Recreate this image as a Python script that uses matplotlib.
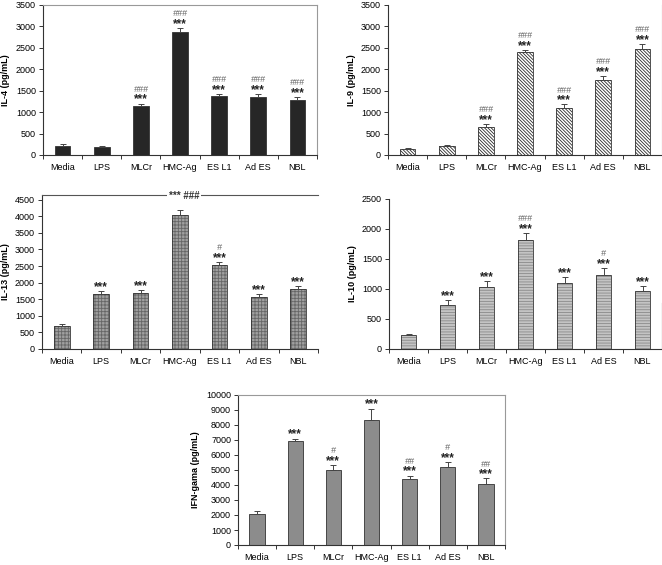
import matplotlib
matplotlib.use("Agg")
from matplotlib import pyplot as plt
import numpy as np

plt.rcParams['font.family'] = ['Liberation Sans', 'DejaVu Sans']
plt.rcParams['hatch.linewidth'] = 0.6

groups = ["Media", "LPS", "MLCr", "HMC-Ag", "ES L1", "Ad ES", "NBL"]

il4 = [220, 190, 1150, 2870, 1370, 1350, 1290]
il4_err = [30, 30, 50, 90, 60, 70, 70]
il4_stars = ["", "", "***", "***", "***", "***", "***"]
il4_hash = ["", "", "###", "###", "###", "###", "###"]

il9 = [150, 220, 660, 2400, 1100, 1760, 2470]
il9_err = [10, 20, 60, 50, 80, 80, 120]
il9_stars = ["", "", "***", "***", "***", "***", "***"]
il9_hash = ["", "", "###", "###", "###", "###", "###"]

il13 = [690, 1650, 1700, 4050, 2520, 1560, 1820]
il13_err = [60, 100, 80, 150, 110, 90, 80]
il13_stars = ["", "***", "***", "", "***", "***", "***"]
il13_hash = ["", "", "", "", "#", "", ""]

il10 = [240, 740, 1030, 1810, 1100, 1240, 960]
il10_err = [15, 70, 100, 120, 100, 110, 90]
il10_stars = ["", "***", "***", "***", "***", "***", "***"]
il10_hash = ["", "", "", "###", "", "#", ""]

ifn = [2100, 6950, 5000, 8350, 4380, 5200, 4100]
ifn_err = [150, 150, 350, 750, 250, 350, 350]
ifn_stars = ["", "***", "***", "***", "***", "***", "***"]
ifn_hash = ["", "", "#", "", "##", "#", "##"]

fig = plt.figure(figsize=(6.62, 5.65), dpi=100)
W, H = 662.0, 565.0


def make_ax(left, top, right, bottom):
    return fig.add_axes([left / W, 1 - bottom / H, (right - left) / W, (bottom - top) / H])


def panel(ax, vals, err, stars, hashes, ylabel, ymax, ystep, face, hatch=None, hcolor=None,
          frame=True, ytop=None):
    x = np.arange(len(groups))
    if hatch:
        ax.bar(x, vals, width=0.4, color=face, edgecolor=hcolor, hatch=hatch, linewidth=0, zorder=2)
        ax.bar(x, vals, width=0.4, fill=False, edgecolor="#333333", linewidth=0.6, zorder=3)
    else:
        ax.bar(x, vals, width=0.4, color=face, edgecolor="#333333", linewidth=0.6, zorder=2)
    ax.errorbar(x, vals, yerr=[np.zeros(len(vals)), err], fmt="none", ecolor="#444444",
                elinewidth=0.7, capsize=2, capthick=0.7, zorder=4)
    for i in range(len(vals)):
        top = vals[i] + err[i]
        if stars[i]:
            ax.annotate(stars[i], (x[i], top), xytext=(0, -1.5), textcoords="offset points",
                        ha="center", va="bottom", fontsize=8.5, fontweight="bold", color="#222222")
        if hashes[i]:
            off = 7 if stars[i] else 1
            ax.annotate(hashes[i], (x[i], top), xytext=(0, off), textcoords="offset points",
                        ha="center", va="bottom", fontsize=6.5, style="italic", color="#666666")
    ax.set_xlim(-0.5, len(groups) - 0.5)
    ax.set_ylim(0, ytop if ytop else ymax)
    ax.set_yticks(np.arange(0, ymax + 1, ystep))
    ax.set_xticks(x)
    ax.set_xticklabels(groups, fontsize=6.5)
    ax.set_xticks(np.arange(-0.5, len(groups), 1.0), minor=True)
    ax.tick_params(axis="x", which="major", length=0, pad=6)
    ax.tick_params(axis="x", which="minor", length=3, width=0.7, color="#333333")
    ax.tick_params(axis="y", length=3, width=0.7, labelsize=6.5, pad=2, color="#333333")
    ax.set_ylabel(ylabel, fontsize=6.5, fontweight="bold")
    for s in ["left", "bottom"]:
        ax.spines[s].set_color("#333333")
        ax.spines[s].set_linewidth(0.8)
    for s in ["top", "right"]:
        if frame:
            ax.spines[s].set_color("#999999")
            ax.spines[s].set_linewidth(0.8)
        else:
            ax.spines[s].set_visible(False)


ax1 = make_ax(43, 5, 317, 155)
panel(ax1, il4, il4_err, il4_stars, il4_hash, "IL-4 (pg/mL)", 3500, 500, "#262626")

ax2 = make_ax(388, 5, 662, 155)
panel(ax2, il9, il9_err, il9_stars, il9_hash, "IL-9 (pg/mL)", 3500, 500, "white",
      hatch="\\" * 10, hcolor="#2a2a2a", frame=False)
ax2.spines["right"].set_visible(True)
ax2.spines["right"].set_color("#999999")

ax3 = make_ax(42, 195, 318, 349)
panel(ax3, il13, il13_err, il13_stars, il13_hash, "IL-13 (pg/mL)", 4500, 500, "#a0a0a0",
      hatch="+++++", hcolor="#666666", frame=False, ytop=4640)
ax3.spines["top"].set_visible(True)
ax3.spines["top"].set_color("#555555")
ax3.annotate("*** ###", (3, 4640), xytext=(3, -1), textcoords="offset points", ha="center",
             va="center", fontsize=7, fontweight="bold", color="#333333",
             bbox=dict(facecolor="white", edgecolor="none", pad=1.5))

ax4 = make_ax(389, 199, 662, 349)
panel(ax4, il10, il10_err, il10_stars, il10_hash, "IL-10 (pg/mL)", 2500, 500, "#c4c4c4",
      hatch="------", hcolor="#8a8a8a", frame=False)
ax4.spines["right"].set_visible(True)
ax4.spines["right"].set_color("#333333")
ax4.spines["right"].set_bounds(0, 760)

ax5 = make_ax(238, 395, 505, 545)
panel(ax5, ifn, ifn_err, ifn_stars, ifn_hash, "IFN-gama (pg/mL)", 10000, 1000, "#8c8c8c")

fig.savefig("out.png", dpi=100)
